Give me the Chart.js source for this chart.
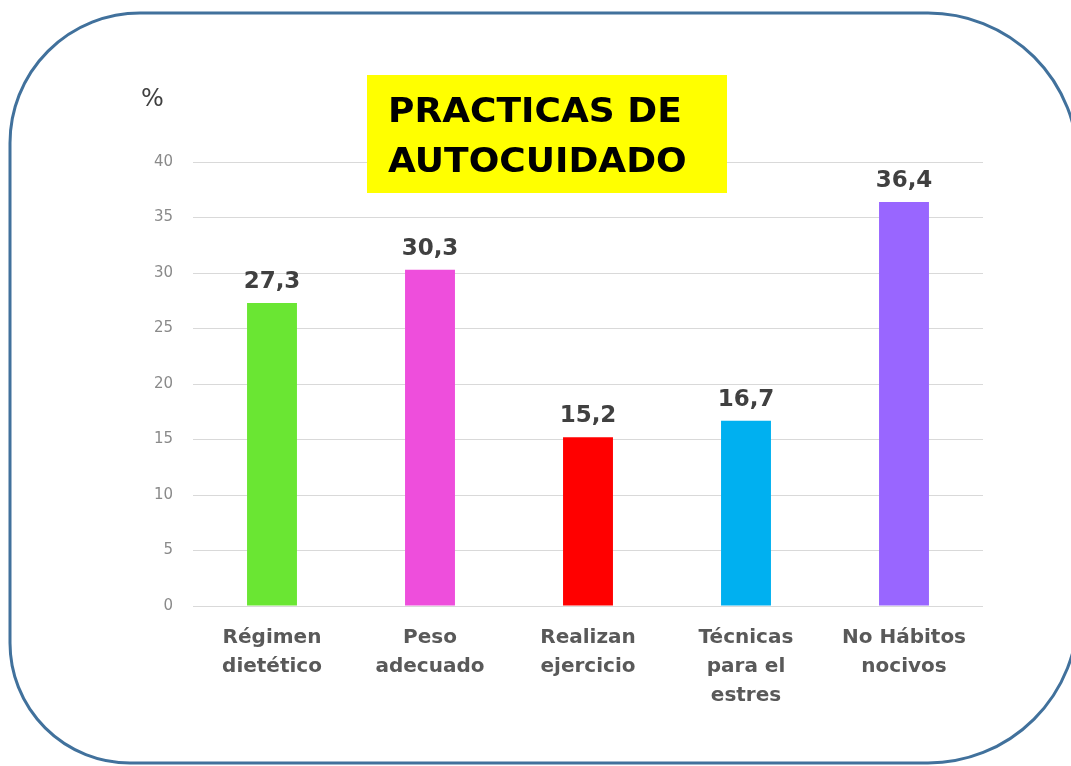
<!DOCTYPE html>
<html>
<head>
<meta charset="utf-8">
<script src="https://cdn.jsdelivr.net/npm/chart.js@4"></script>
<style>
  body { margin: 0; background: #fff; }
  #wrap { width: 1071px; height: 766px; position: relative; }
</style>
</head>
<body>
<div id="wrap"><canvas id="myChart"></canvas></div>
<script>
// datos del grafico
const categorias = [
    ['Régimen', 'dietético'],
    ['Peso', 'adecuado'],
    ['Realizan', 'ejercicio'],
    ['Técnicas', 'para el', 'estres'],
    ['No Hábitos', 'nocivos']
];
const porcentajes = [27.3, 30.3, 15.2, 16.7, 36.4];
const colores = ['#6ae633', '#ee4edc', '#ff0000', '#00b0f0', '#9966ff'];
const titulo = ['PRACTICAS DE', 'AUTOCUIDADO'];
const unidad = '%';

const fuente = '"DejaVu Sans", sans-serif';

// marco redondeado de fondo
const marco = {
    id: 'marco',
    beforeDraw(chart) {
        const ctx = chart.ctx;
        const x0 = 10, y0 = 13, x1 = 1078, y1 = 763;
        const rTL = 130, rTR = 150, rBR = 150, rBL = 120;
        ctx.save();
        ctx.beginPath();
        ctx.moveTo(x0 + rTL, y0);
        ctx.lineTo(x1 - rTR, y0);
        ctx.arcTo(x1, y0, x1, y0 + rTR, rTR);
        ctx.lineTo(x1, y1 - rBR);
        ctx.arcTo(x1, y1, x1 - rBR, y1, rBR);
        ctx.lineTo(x0 + rBL, y1);
        ctx.arcTo(x0, y1, x0, y1 - rBL, rBL);
        ctx.lineTo(x0, y0 + rTL);
        ctx.arcTo(x0, y0, x0 + rTL, y0, rTL);
        ctx.closePath();
        ctx.lineWidth = 3;
        ctx.strokeStyle = '#41719c';
        ctx.stroke();
        ctx.restore();
    }
};

// etiquetas de valor, titulo y unidad
const textos = {
    id: 'textos',
    afterDraw(chart) {
        const ctx = chart.ctx;
        const meta = chart.getDatasetMeta(0);
        ctx.save();
        ctx.font = 'bold 23px ' + fuente;
        ctx.fillStyle = '#404040';
        ctx.textAlign = 'center';
        ctx.textBaseline = 'alphabetic';
        meta.data.forEach(function (bar, i) {
            ctx.fillText(porcentajes[i].toFixed(1).replace('.', ','), bar.x, bar.y - 15);
        });

        // caja del titulo
        ctx.fillStyle = '#ffff00';
        ctx.fillRect(367, 75, 360, 118);
        ctx.fillStyle = '#000000';
        ctx.font = 'bold 34px ' + fuente;
        ctx.textAlign = 'left';
        ctx.save();
        ctx.translate(388, 0);
        ctx.scale(1.06, 1);
        ctx.fillText(titulo[0], 0, 122);
        ctx.fillText(titulo[1], 0, 172);
        ctx.restore();

        // unidad
        ctx.fillStyle = '#404040';
        ctx.font = '24px ' + fuente;
        ctx.fillText(unidad, 141, 106);
        ctx.restore();
    }
};

new Chart('myChart', {
    type: 'bar',
    data: {
        labels: categorias,
        datasets: [{
            data: porcentajes,
            backgroundColor: colores,
            barPercentage: 0.316,
            categoryPercentage: 1
        }]
    },
    options: {
        responsive: true,
        maintainAspectRatio: false,
        animation: false,
        layout: { padding: { left: 100, right: 88, top: 162, bottom: 0 } },
        plugins: {
            legend: { display: false },
            tooltip: { enabled: false }
        },
        scales: {
            x: {
                grid: { display: false, drawTicks: false },
                border: { display: false },
                ticks: {
                    padding: 17,
                    color: '#595959',
                    font: { family: fuente, size: 20, weight: 'bold', lineHeight: 1.45 },
                    maxRotation: 0,
                    autoSkip: false
                },
                afterFit(scale) { scale.height = 160; }
            },
            y: {
                min: 0,
                max: 40,
                grid: { color: '#d9d9d9', drawTicks: false },
                border: { display: false },
                ticks: {
                    stepSize: 5,
                    padding: 20,
                    color: '#8a8a8a',
                    font: { family: fuente, size: 15 }
                },
                afterFit(scale) { scale.width = 93; }
            }
        }
    },
    plugins: [marco, textos]
});
</script>
</body>
</html>
